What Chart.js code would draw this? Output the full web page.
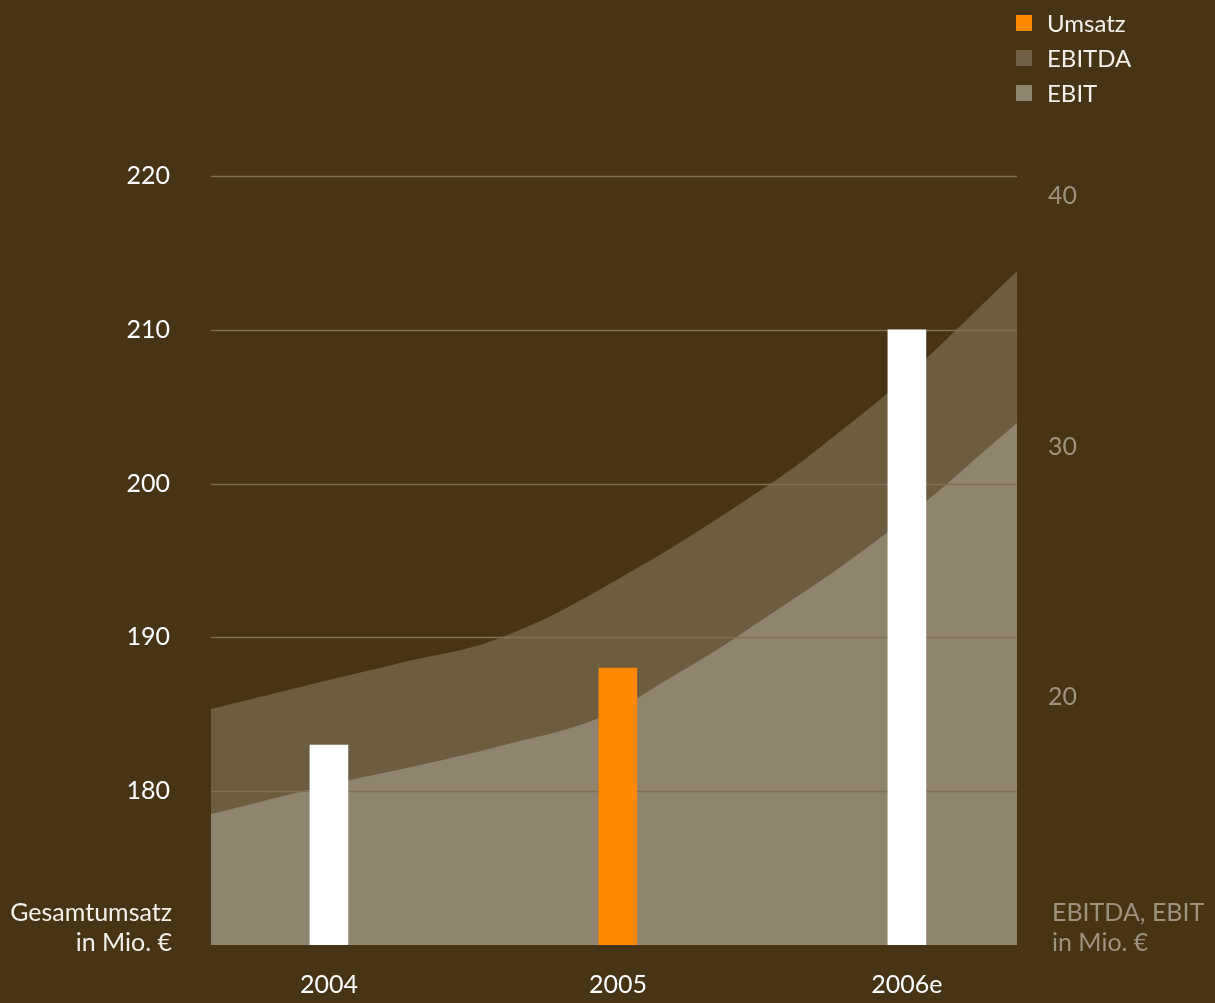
<!DOCTYPE html>
<html>
<head>
<meta charset="utf-8">
<script src="https://cdn.jsdelivr.net/npm/chart.js@4/dist/chart.umd.min.js"></script>
<style>
  html, body { margin: 0; padding: 0; background: #463414; }
  #wrap { position: relative; width: 1215px; height: 1003px; background: #463414; font-family: Lato, "Noto Sans", sans-serif; }
  #c { position: absolute; left: 0; top: 0; }
  .legend { position: absolute; left: 1016px; top: 5px; }
  .legend .row { display: flex; align-items: center; height: 35px; font-size: 24px; color: #f4f0e8; }
  .legend .sw { width: 16px; height: 16px; margin-right: 15px; }
  .ttl { position: absolute; font-size: 25px; line-height: 30px; }
  #tl { right: calc(1215px - 172px); top: 896px; text-align: right; color: #f4f0e8; }
  #tr { left: 1052px; top: 896px; text-align: left; color: #9d927e; }
</style>
</head>
<body>
<div id="wrap">
  <canvas id="c" width="1215" height="1003"></canvas>
  <div class="legend" id="legend"></div>
  <div class="ttl" id="tl">Gesamtumsatz<br>in Mio. €</div>
  <div class="ttl" id="tr">EBITDA, EBIT<br>in Mio. €</div>
</div>
<script>
// ---- Data ----
const years = [2004, 2005, 2006];
const yearLabels = ['2004', '2005', '2006e'];
const umsatz = [183, 188, 210];

const ebitdaYears  = [2003.592, 2004, 2004.246, 2004.592, 2005, 2005.526, 2005.775, 2006, 2006.381];
const ebitdaValues = [19.52, 20.68, 21.36, 22.36, 24.70, 28.50, 30.66, 32.81, 37.01];

const ebitYears  = [2003.592, 2004, 2004.394, 2004.592, 2004.934, 2005.180, 2005.405, 2005.934, 2006.381];
const ebitValues = [15.33, 16.49, 17.49, 18.04, 19.16, 20.76, 22.36, 26.59, 30.94];

const leftTicks = [180, 190, 200, 210, 220];
const rightTicks = [20, 30, 40];

const seriesNames = ['Umsatz', 'EBITDA', 'EBIT'];
const colors = { umsatz: '#ff8800', ebitda: '#6c5d41', ebit: '#8f846d', bar: '#ffffff', grid: '#7e6f55', rightText: '#9d927e' };

// ---- Legend (HTML) ----
const legendColors = [colors.umsatz, '#6f6148', '#908570'];
const lg = document.getElementById('legend');
seriesNames.forEach((n, i) => {
  const r = document.createElement('div'); r.className = 'row';
  const s = document.createElement('div'); s.className = 'sw'; s.style.background = legendColors[i];
  const t = document.createElement('span'); t.textContent = n;
  r.appendChild(s); r.appendChild(t); lg.appendChild(r);
});

// grid lines drawn above areas, below bars
const gridPlugin = {
  id: 'midGrid',
  beforeDatasetDraw(chart, args) {
    if (args.meta.type !== 'bar') return;
    const { ctx, chartArea, scales } = chart;
    ctx.save();
    ctx.strokeStyle = colors.grid;
    ctx.lineWidth = 1.5;
    leftTicks.forEach(v => {
      const y = Math.round(scales.y.getPixelForValue(v)) + 0.5;
      ctx.beginPath(); ctx.moveTo(chartArea.left, y); ctx.lineTo(chartArea.right, y); ctx.stroke();
    });
    ctx.restore();
  }
};

Chart.defaults.font.family = 'Lato, "Noto Sans", sans-serif';

new Chart(document.getElementById('c'), {
  data: {
    datasets: [
      {
        type: 'bar', label: seriesNames[0], order: 0, yAxisID: 'y',
        data: years.map((x, i) => ({ x, y: umsatz[i] })),
        backgroundColor: years.map((x, i) => i === 1 ? colors.umsatz : colors.bar),
        barThickness: 38, borderWidth: 0
      },
      {
        type: 'line', label: seriesNames[2], order: 1, yAxisID: 'y2',
        data: ebitYears.map((x, i) => ({ x, y: ebitValues[i] })),
        backgroundColor: colors.ebit, borderWidth: 0, pointRadius: 0,
        fill: 'start', tension: 0.4
      },
      {
        type: 'line', label: seriesNames[1], order: 2, yAxisID: 'y2',
        data: ebitdaYears.map((x, i) => ({ x, y: ebitdaValues[i] })),
        backgroundColor: colors.ebitda, borderWidth: 0, pointRadius: 0,
        fill: 'start', tension: 0.4
      }
    ]
  },
  options: {
    responsive: false,
    animation: false,
    layout: { padding: { top: 176, left: 0, right: 0, bottom: 0 } },
    plugins: { legend: { display: false }, tooltip: { enabled: false } },
    scales: {
      x: {
        type: 'linear', min: 2003.592, max: 2006.381, offset: false,
        grid: { display: false, offset: false, drawTicks: false }, border: { display: false },
        afterBuildTicks: s => { s.ticks = years.map(v => ({ value: v })); },
        afterFit: s => { s.height = 58; },
        ticks: {
          color: '#ffffff', font: { size: 25 }, padding: 25, maxRotation: 0, autoSkip: false,
          callback: v => yearLabels[years.indexOf(v)]
        }
      },
      y: {
        position: 'left', min: 170, max: 220,
        grid: { display: false, drawTicks: false }, border: { display: false },
        afterBuildTicks: s => { s.ticks = leftTicks.map(v => ({ value: v })); },
        afterFit: s => { s.width = 211; },
        ticks: { color: '#ffffff', font: { size: 25 }, padding: 41 }
      },
      y2: {
        position: 'right', min: 10.1, max: 40.8,
        grid: { display: false, drawTicks: false }, border: { display: false },
        afterBuildTicks: s => { s.ticks = rightTicks.map(v => ({ value: v })); },
        afterFit: s => { s.width = 198; },
        ticks: { color: colors.rightText, font: { size: 25 }, padding: 31 }
      }
    }
  },
  plugins: [gridPlugin]
});
</script>
</body>
</html>
